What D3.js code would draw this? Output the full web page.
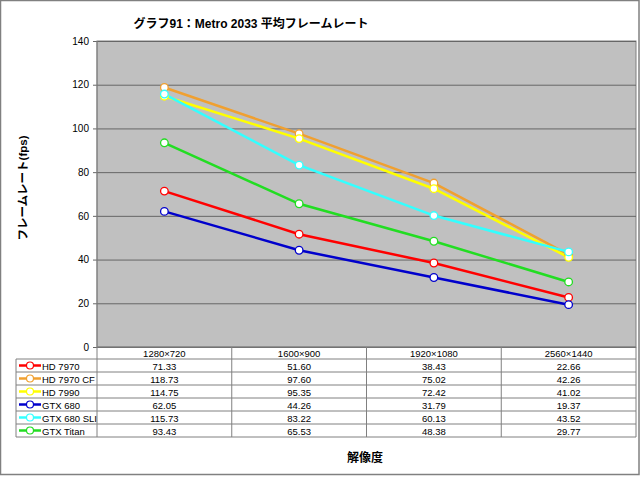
<!DOCTYPE html>
<html>
<head>
<meta charset="utf-8">
<script src="https://cdn.jsdelivr.net/npm/d3@7"></script>
<style>
  body { margin: 0; background: #fff; }
  text { font-family: "Liberation Sans", "Noto Sans CJK JP", sans-serif; }
</style>
</head>
<body>
<svg width="640" height="478"></svg>
<script>
// chart data
var categories = ["1280×720", "1600×900", "1920×1080", "2560×1440"];
var seriesNames = ["HD 7970", "HD 7970 CF", "HD 7990", "GTX 680", "GTX 680 SLI", "GTX Titan"];
var seriesColors = ["#ff0000", "#f0a030", "#ffff00", "#0000cc", "#33ffff", "#22dd22"];
var hd7970 = [71.33, 51.60, 38.43, 22.66];
var hd7970cf = [118.73, 97.60, 75.02, 42.26];
var hd7990 = [114.75, 95.35, 72.42, 41.02];
var gtx680 = [62.05, 44.26, 31.79, 19.37];
var gtx680sli = [115.73, 83.22, 60.13, 43.52];
var gtxTitan = [93.43, 65.53, 48.38, 29.77];
var yTicks = [0, 20, 40, 60, 80, 100, 120, 140];

var seriesValues = [hd7970, hd7970cf, hd7990, gtx680, gtx680sli, gtxTitan];

var svg = d3.select("svg"),
  plotL = 97, plotR = 636, plotT = 41, plotB = 347,
  tableLeft = 16, headerH = 12, rowH = 13;

// outer frame
svg.append("rect")
  .attr("x", 0.5).attr("y", 0.5)
  .attr("width", 638.5).attr("height", 474)
  .attr("fill", "#fff").attr("stroke", "#808080").attr("stroke-width", 1.5);

var x = d3.scaleBand().domain(categories).range([plotL, plotR]);
var y = d3.scaleLinear().domain([0, 140]).range([plotB, plotT]);

// plot background
svg.append("rect")
  .attr("x", plotL).attr("y", plotT)
  .attr("width", plotR - plotL).attr("height", plotB - plotT)
  .attr("fill", "#c0c0c0").attr("stroke", "#808080");

// gridlines + y axis
var yAxis = d3.axisLeft(y).tickValues(yTicks).tickSize(plotR - plotL + 4).tickPadding(4);
var ya = svg.append("g")
  .attr("transform", "translate(" + plotR + ",0)")
  .call(yAxis);
ya.select(".domain").remove();
ya.selectAll(".tick line").attr("stroke", "#666").attr("stroke-width", 1);
ya.selectAll(".tick text")
  .attr("font-size", 10).attr("fill", "#000")
  .attr("font-family", "Liberation Sans, sans-serif");

// left axis line
svg.append("line")
  .attr("x1", plotL).attr("x2", plotL).attr("y1", plotT).attr("y2", plotB)
  .attr("stroke", "#808080");

// series lines
var line = d3.line()
  .x(function (d, i) { return x(categories[i]) + x.bandwidth() / 2; })
  .y(function (d) { return y(d); });

seriesValues.forEach(function (vals, s) {
  svg.append("path")
    .datum(vals)
    .attr("d", line)
    .attr("fill", "none")
    .attr("stroke", seriesColors[s])
    .attr("stroke-width", 2.5);
});
seriesValues.forEach(function (vals, s) {
  svg.append("g").selectAll("circle")
    .data(vals)
    .enter()
    .append("circle")
    .attr("cx", function (d, i) { return x(categories[i]) + x.bandwidth() / 2; })
    .attr("cy", function (d) { return y(d); })
    .attr("r", 3.8)
    .attr("fill", "#fff")
    .attr("stroke", seriesColors[s])
    .attr("stroke-width", 1.3);
});

// data table
var tableBottom = plotB + headerH + rowH * seriesNames.length;
var tg = svg.append("g");

// horizontal rules
tg.append("line")
  .attr("x1", plotL).attr("x2", plotR)
  .attr("y1", plotB).attr("y2", plotB)
  .attr("stroke", "#808080");
for (var r = 0; r <= seriesNames.length; r++) {
  var yy = plotB + headerH + rowH * r;
  tg.append("line")
    .attr("x1", tableLeft).attr("x2", plotR)
    .attr("y1", yy).attr("y2", yy)
    .attr("stroke", "#808080");
}
// vertical rules
tg.append("line")
  .attr("x1", tableLeft).attr("x2", tableLeft)
  .attr("y1", plotB + headerH).attr("y2", tableBottom)
  .attr("stroke", "#808080");
[plotL].concat(categories.map(function (c) { return x(c) + x.bandwidth(); })).forEach(function (xx) {
  tg.append("line")
    .attr("x1", xx).attr("x2", xx)
    .attr("y1", plotB).attr("y2", tableBottom)
    .attr("stroke", "#808080");
});

// header
tg.selectAll("text.head")
  .data(categories)
  .enter()
  .append("text")
  .attr("class", "head")
  .attr("x", function (d) { return x(d) + x.bandwidth() / 2; })
  .attr("y", plotB + headerH - 2.5)
  .attr("text-anchor", "middle")
  .attr("font-size", 9.5)
  .text(function (d) { return d; });

// rows
seriesNames.forEach(function (name, s) {
  var rowY = plotB + headerH + rowH * s;
  var my = rowY + rowH / 2;
  tg.append("line")
    .attr("x1", tableLeft + 3).attr("x2", tableLeft + 25)
    .attr("y1", my).attr("y2", my)
    .attr("stroke", seriesColors[s]).attr("stroke-width", 2.5);
  tg.append("circle")
    .attr("cx", tableLeft + 14).attr("cy", my).attr("r", 3.5)
    .attr("fill", "#fff").attr("stroke", seriesColors[s]).attr("stroke-width", 1.2);
  tg.append("text")
    .attr("x", tableLeft + 26).attr("y", rowY + rowH - 2.5)
    .attr("font-size", 9.5)
    .text(name);
  tg.selectAll("text.v" + s)
    .data(seriesValues[s])
    .enter()
    .append("text")
    .attr("class", "v" + s)
    .attr("x", function (d, i) { return x(categories[i]) + x.bandwidth() / 2; })
    .attr("y", rowY + rowH - 2.5)
    .attr("text-anchor", "middle")
    .attr("font-size", 9.5)
    .text(function (d) { return d.toFixed(2); });
});

// titles
svg.append("text")
  .attr("x", 251).attr("y", 28)
  .attr("text-anchor", "middle")
  .attr("font-size", 12).attr("font-weight", "bold")
  .attr("font-family", "Noto Sans CJK JP, sans-serif")
  .text("グラフ91：Metro 2033 平均フレームレート");

svg.append("text")
  .attr("transform", "translate(27,188) rotate(-90)")
  .attr("text-anchor", "middle")
  .attr("font-size", 11.5).attr("font-weight", "bold")
  .attr("font-family", "Noto Sans CJK JP, sans-serif")
  .text("フレームレート(fps)");

svg.append("text")
  .attr("x", 365).attr("y", 462)
  .attr("text-anchor", "middle")
  .attr("font-size", 12).attr("font-weight", "bold")
  .attr("font-family", "Noto Sans CJK JP, sans-serif")
  .text("解像度");
</script>
</body>
</html>
